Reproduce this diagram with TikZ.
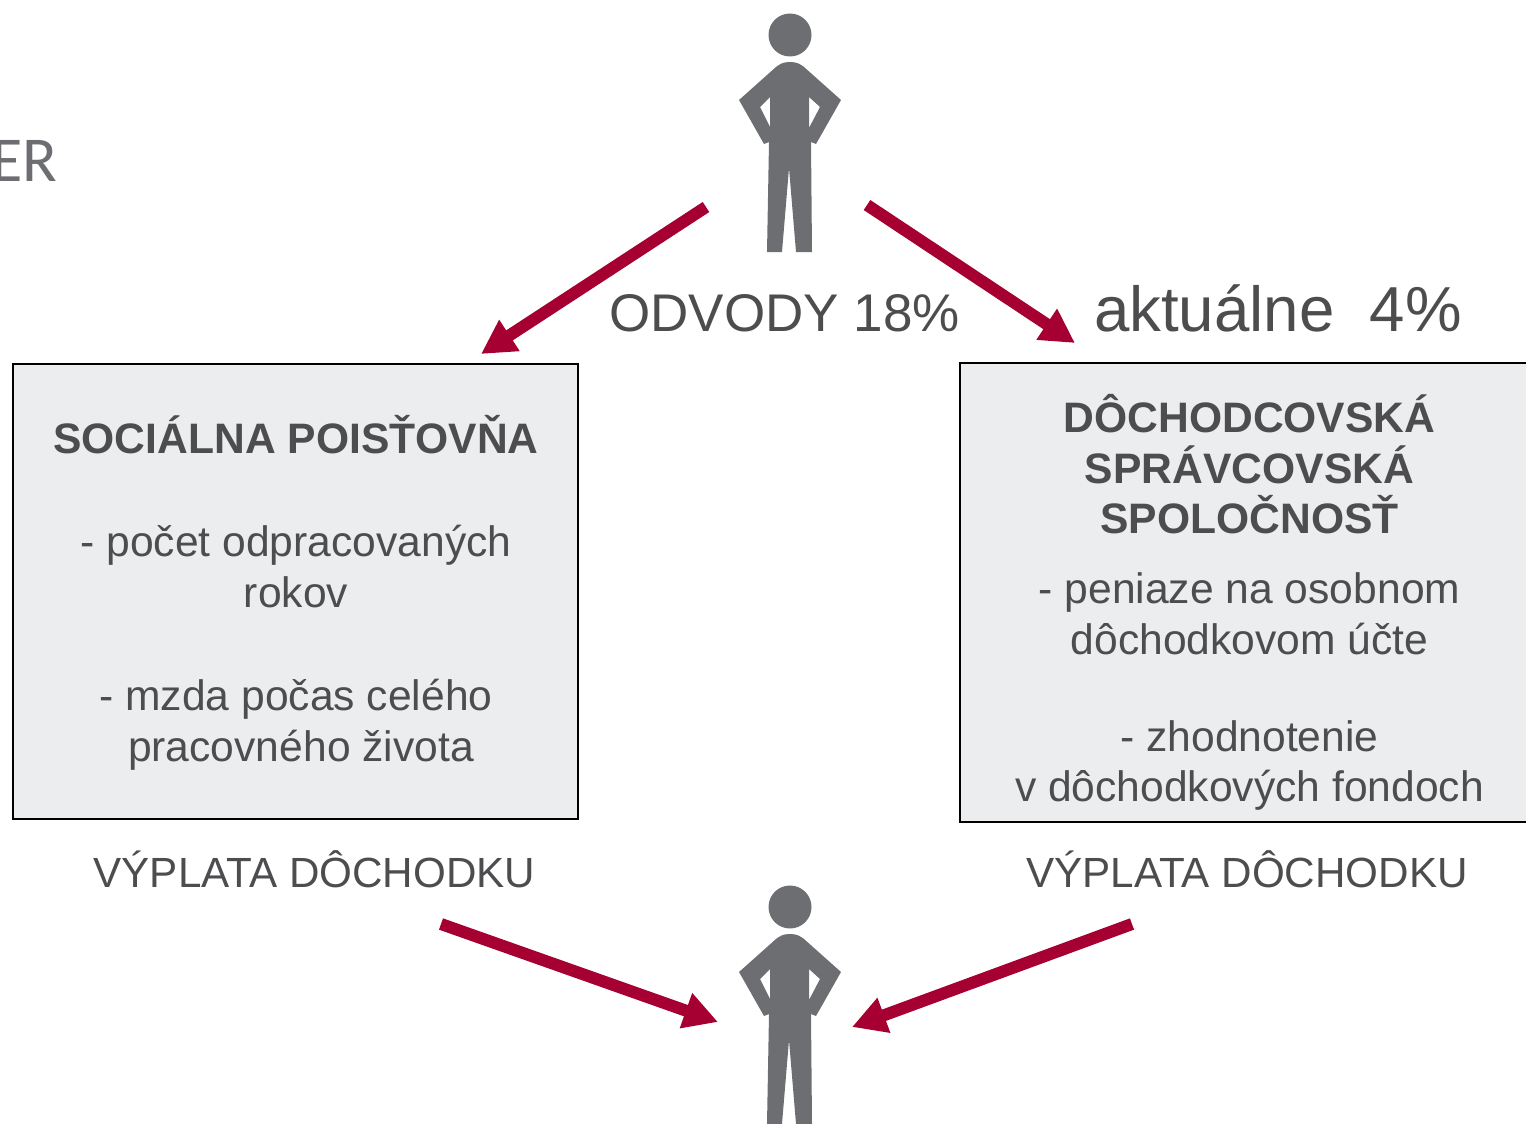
\documentclass[tikz,border=0pt]{standalone}
\usepackage{fontspec}
\setmainfont{Liberation Sans}
\newfontfamily\erfont{Carlito}
\usetikzlibrary{arrows.meta}
\definecolor{figgray}{HTML}{6D6E71}
\definecolor{txtgray}{HTML}{4D4D4F}
\definecolor{boxfill}{HTML}{ECEDEF}
\definecolor{arrowred}{HTML}{A60033}
\tikzset{
  panel/.style={draw=black,fill=boxfill,line width=1pt},
  paneltext/.style={align=center,text=txtgray,inner sep=0pt,font=\fontsize{21.3pt}{25.65pt}\selectfont},
  boldline/.style={},
  caption/.style={text=txtgray,inner sep=0pt,font=\fontsize{21.1pt}{26pt}\selectfont},
  flow/.style={draw=arrowred,line width=6pt,-{Triangle[length=17pt,width=17.5pt]},shorten >=0pt},
  person/.pic={
    \fill[figgray] (790,35) circle (21.5);
    \fill[figgray,even odd rule]
      (790,62) .. controls (783,62) and (780,64) .. (776,67)
      -- (739,100) -- (764,144) -- (769,142) -- (767,252) -- (782,252) -- (789,168)
      -- (796,252) -- (812,252) -- (811,142) -- (816,144) -- (841,100) -- (804,67)
      .. controls (800,64) and (797,62) .. (790,62) -- cycle
      (770,97) -- (760,107) -- (770,127) -- cycle
      (809,97) -- (820,107) -- (809,128) -- cycle;
  }
}
\begin{document}
\begin{tikzpicture}[x=0.5pt,y=-0.5pt]
\useasboundingbox (0,0) rectangle (1526,1124);
\clip (0,0) rectangle (1526,1124);
\node[anchor=east,text=figgray,inner sep=0pt,font=\erfont\fontsize{32pt}{36pt}\selectfont] (er) at (57.5,161) {ER};
\pic at (0,0) {person};
\pic at (0,872) {person};

\coordinate (a1s) at (706,207); \coordinate (a1e) at (481,354);
\coordinate (a2s) at (867,205); \coordinate (a2e) at (1075,343);
\coordinate (a3s) at (441,924); \coordinate (a3e) at (718,1022);
\coordinate (a4s) at (1132,924); \coordinate (a4e) at (852,1027);
\draw[flow] (a1s) -- (a1e);
\draw[flow] (a2s) -- (a2e);
\draw[flow] (a3s) -- (a3e);
\draw[flow] (a4s) -- (a4e);

\node[text=txtgray,inner sep=0pt,font=\fontsize{26.5pt}{30pt}\selectfont] (odvody) at (784.5,313) {ODVODY 18\%};
\node[text=txtgray,inner sep=0pt,font=\fontsize{31.8pt}{36pt}\selectfont] (akt) at (1278,308.5) {aktuálne\ \ 4\%};

\draw[panel] (12.5,363.5) rectangle (578,819);
\node[paneltext] (ltext) at (296,593) {\textbf{SOCIÁLNA POISŤOVŇA}\\[25.65pt]- počet odpracovaných\\rokov\\[25.65pt]- mzda počas celého\\\hspace*{5pt}pracovného života};

\draw[panel] (960,363) rectangle (1540,822);
\node[paneltext,font=\fontsize{21.3pt}{25.3pt}\selectfont] (rtext) at (1249.5,602.5) {\textbf{DÔCHODCOVSKÁ}\\\textbf{SPRÁVCOVSKÁ}\\\textbf{SPOLOČNOSŤ}\\[9.7pt]- peniaze na osobnom\\dôchodkovom účte\\[23pt]- zhodnotenie\\v dôchodkových fondoch};

\node[caption] (vl) at (314.5,869.5) {VÝPLATA DÔCHODKU};
\node[caption] (vr) at (1247,869.5) {VÝPLATA DÔCHODKU};
\end{tikzpicture}
\end{document}
